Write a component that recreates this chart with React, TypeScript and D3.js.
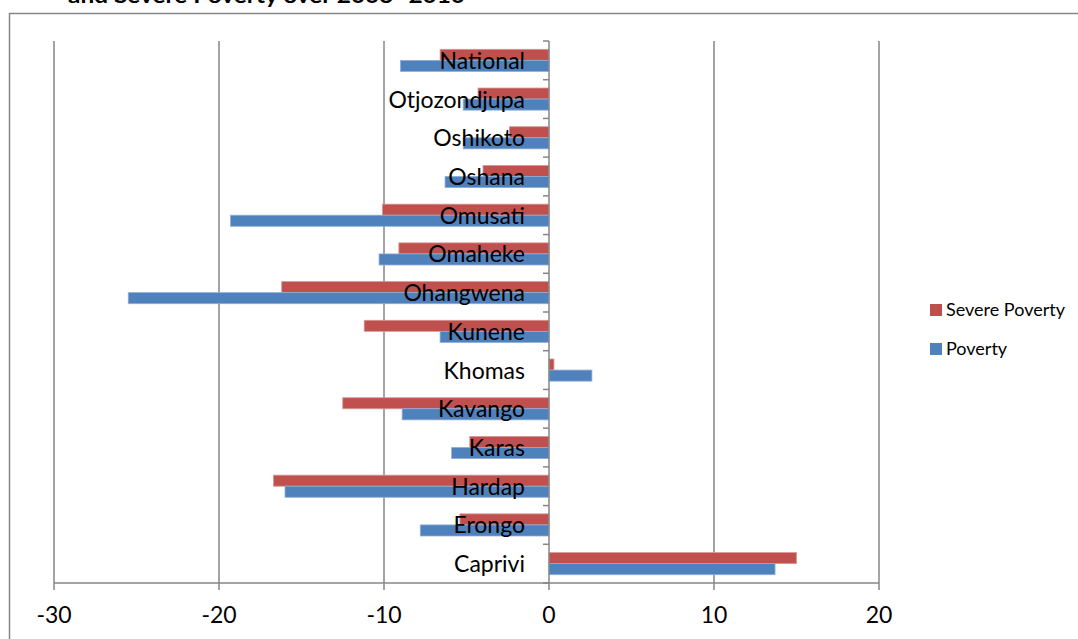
import * as d3 from 'd3';

const regions = [
  'National', 'Otjozondjupa', 'Oshikoto', 'Oshana', 'Omusati', 'Omaheke', 'Ohangwena',
  'Kunene', 'Khomas', 'Kavango', 'Karas', 'Hardap', 'Erongo', 'Caprivi',
];
const severePoverty = [-6.6, -4.3, -2.4, -4.0, -10.1, -9.1, -16.2, -11.2, 0.3, -12.5, -4.8, -16.7, -5.4, 15.0];
const poverty = [-9.0, -5.2, -5.2, -6.3, -19.3, -10.3, -25.5, -6.6, 2.6, -8.9, -5.9, -16.0, -7.8, 13.7];
const xTicks = [-30, -20, -10, 0, 10, 20];
const seriesNames = ['Severe Poverty', 'Poverty'];
const seriesColors = ['#C0504D', '#4F81BD'];
const title = 'and Severe Poverty over 2003- 2010';

const W = 1078;
const H = 639;
const FONT = 'Lato, "Open Sans", sans-serif';
const GREY = '#868686';

export default function App() {
  const x = d3.scaleLinear().domain([-30, 20]).range([54, 879]);
  const y = d3.scaleBand<string>().domain(regions).range([41, 583]).padding(0);
  const inner = d3.scaleBand<string>()
    .domain(seriesNames)
    .range([0, y.bandwidth()])
    .paddingInner(0)
    .paddingOuter(0.75);
  const values = [severePoverty, poverty];
  const x0 = x(0);
  const [yTop, yBottom] = y.range();

  // boundaries between categories for the little ticks on the vertical axis
  const boundaries = regions.map(r => y(r)!).concat([yBottom]);

  return (
    <svg width={W} height={H} style={{ position: 'absolute', left: 0, top: 0, background: '#fff' }}>
      {/* chart frame */}
      <rect x={9.5} y={13.5} width={W} height={H} fill="#fff" stroke={GREY} strokeWidth={1.5} />
      {/* title is clipped by the top edge, as in the source */}
      <text x={68} y={3} fontFamily={FONT} fontWeight="bold" fontSize={21} textLength={397} lengthAdjust="spacingAndGlyphs">
        {title}
      </text>

      {/* vertical gridlines */}
      {xTicks.filter(t => t !== 0).map(t => (
        <line key={t} x1={x(t)} x2={x(t)} y1={yTop} y2={yBottom} stroke={GREY} strokeWidth={1.5} />
      ))}

      {/* bars */}
      {regions.map((r, i) => (
        <g key={r} transform={`translate(0,${y(r)})`}>
          {seriesNames.map((s, j) => {
            const v = values[j][i];
            return (
              <rect
                key={s}
                x={Math.min(x(v), x0)}
                y={inner(s)}
                width={Math.abs(x(v) - x0)}
                height={inner.bandwidth()}
                fill={seriesColors[j]}
                stroke={j === 0 ? '#d89896' : '#8eadd6'}
                strokeWidth={0.8}
              />
            );
          })}
        </g>
      ))}

      {/* x axis */}
      <line x1={x(-30)} x2={x(20)} y1={yBottom} y2={yBottom} stroke={GREY} strokeWidth={1.5} />
      {xTicks.map(t => (
        <g key={t}>
          <line x1={x(t)} x2={x(t)} y1={yBottom} y2={yBottom + 7} stroke={GREY} strokeWidth={1.5} />
          <text x={x(t)} y={623} textAnchor="middle" fontFamily={FONT} fontSize={23} fill="#000">
            {t}
          </text>
        </g>
      ))}

      {/* category axis at zero */}
      <line x1={x0} x2={x0} y1={yTop} y2={yBottom} stroke={GREY} strokeWidth={1.5} />
      {boundaries.map((b, i) => (
        <line key={i} x1={x0 - 6} x2={x0} y1={b} y2={b} stroke={GREY} strokeWidth={1.5} />
      ))}
      {regions.map(r => (
        <text
          key={r}
          x={525}
          y={y(r)! + y.bandwidth() / 2 + 8.5}
          textAnchor="end"
          fontFamily={FONT}
          fontSize={23}
          fill="#000"
        >
          {r}
        </text>
      ))}

      {/* legend */}
      {seriesNames.map((s, j) => (
        <g key={s} transform={`translate(930,${304 + j * 39})`}>
          <rect width={12} height={12} fill={seriesColors[j]} />
          <text x={16} y={12} fontFamily={FONT} fontSize={18} fill="#000">
            {s}
          </text>
        </g>
      ))}
    </svg>
  );
}
